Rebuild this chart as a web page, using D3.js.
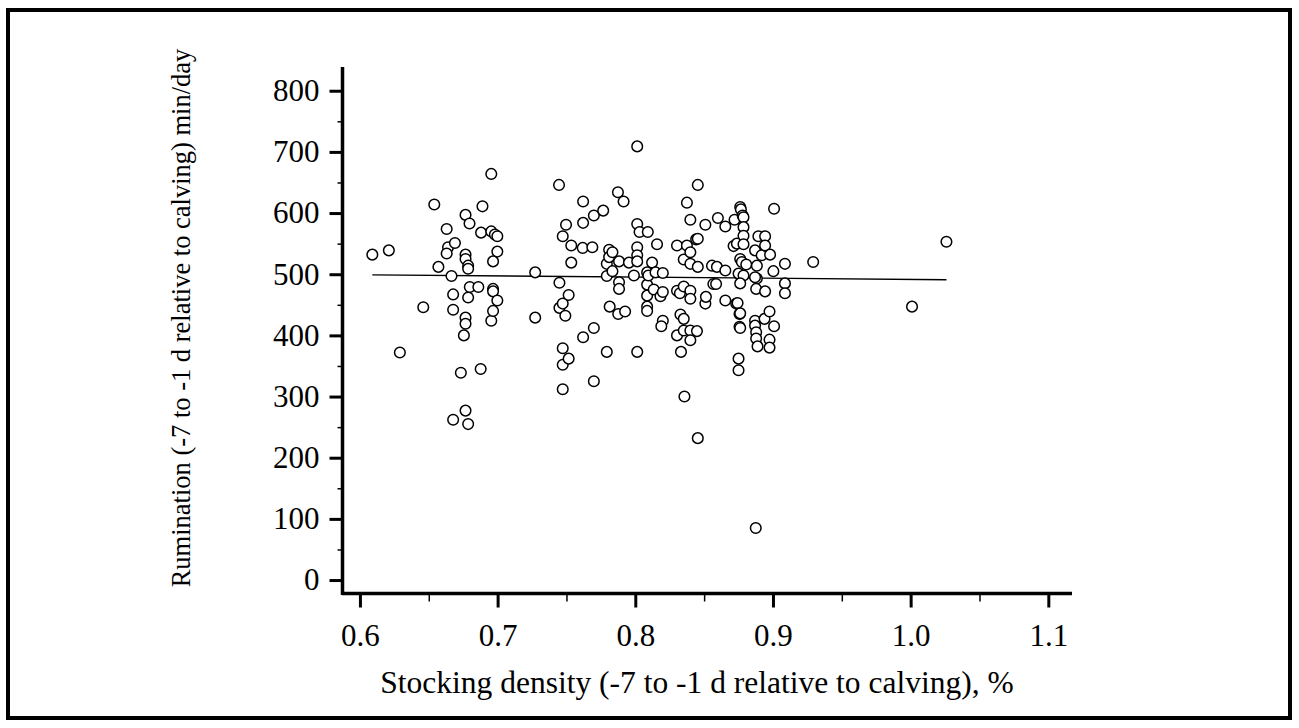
<!DOCTYPE html>
<html>
<head>
<meta charset="utf-8">
<script src="https://cdn.jsdelivr.net/npm/d3@7"></script>
<style>
  html, body { margin: 0; padding: 0; background: #fff; }
  svg { display: block; }
  text { font-family: "Liberation Serif", "Times New Roman", serif; fill: #000; }
</style>
</head>
<body>
<svg id="chart" width="1299" height="728"></svg>
<script>
// ---- Data ----
const stockingDensity = [
  0.609,0.621,0.629,0.646,0.654,0.657,0.663,0.664,0.663,0.6665,0.6677,0.6677,0.6677,0.669,0.6733,0.6755,0.6767,0.6767,0.6767,0.6767,0.6767,0.6767,0.6786,0.6786,0.6786,0.6786,0.6796,0.6798,0.686,0.6877,0.688,0.689,0.6954,0.6954,0.6954,0.6967,0.6967,0.6967,0.6967,0.698,0.6998,0.6998,0.6998,
  0.7273,0.7273,0.7446,0.7449,0.7449,0.7473,0.7473,0.7473,0.7473,0.7473,0.7492,0.7497,0.7516,0.7516,0.7535,0.7535,0.7621,0.7621,0.7618,0.7621,0.7688,0.7699,0.7699,0.7699,0.7767,0.7793,0.7793,0.7793,0.781,0.781,0.7814,0.7834,0.7834,0.7874,0.7882,0.7882,0.7882,0.7876,0.7915,0.7926,0.7954,0.7990,
  0.8014,0.8014,0.8014,0.8014,0.8014,0.8014,0.8031,0.8086,0.8086,0.8086,0.8086,0.8086,0.8091,0.8095,0.8122,0.8134,0.8147,0.8158,0.8183,0.82,0.82,0.82,0.8189,
  0.8303,0.8303,0.8303,0.8324,0.8328,0.8332,0.8352,0.8352,0.8352,0.8352,0.8357,0.8375,0.8375,0.84,0.84,0.84,0.84,0.84,0.84,0.84,0.8442,0.8454,0.8454,0.8454,0.8448,0.8454,0.8509,0.8509,0.8513,0.8557,0.8567,0.8587,0.8593,0.86,0.8654,0.8654,0.8654,0.8721,0.8714,0.8733,0.8738,0.8743,0.875,0.8757,0.8757,0.875,0.875,
  0.8762,0.8767,0.878,0.8786,0.8786,0.8786,0.8786,0.8786,0.8762,0.8774,0.8762,0.8762,0.8762,0.8806,0.8883,0.8883,0.8878,0.887,0.887,0.887,0.887,0.8878,0.8878,0.8888,0.8875,0.8894,0.8918,0.8939,0.8943,0.8943,0.8943,0.8975,0.8975,0.8975,0.8979,0.9003,0.9008,0.9008,0.9087,0.9087,0.9087,0.9292,1.001,1.026
];
const rumination = [
  532,539,372,446,614,512,574,544,534,497,467,442,262,551,339,400,429,419,597,532,525,277,255,514,509,462,583,479,479,345,568,611,664,570,424,440,476,472,521,565,562,537,457,
  503,429,646,486,445,562,452,379,352,312,432,581,466,362,547,519,619,584,543,397,544,596,412,325,604,517,497,373,540,528,447,536,505,634,521,487,476,435,619,439,519,498,
  709,582,544,531,521,373,569,483,503,465,447,440,569,498,519,475,503,549,464,502,471,424,415,
  547,473,400,469,434,373,524,480,427,408,300,617,547,589,536,517,473,460,408,392,557,646,558,512,407,232,581,452,463,514,484,484,512,592,578,506,457,589,546,452,550,453,501,435,414,362,343,
  610,606,596,593,577,563,549,498,525,520,485,436,412,516,514,493,476,539,495,424,416,405,395,382,85,562,531,427,562,547,472,439,393,380,532,505,607,415,517,485,469,520,447,553
];
// Fitted regression line end points
const fitX = [0.609, 1.026];
const fitY = [499, 491];
// Tick labels
const xTicks = [0.6, 0.7, 0.8, 0.9, 1.0, 1.1];
const xMinorTicks = [0.65, 0.75, 0.85, 0.95, 1.05];
const yTicks = [0, 100, 200, 300, 400, 500, 600, 700, 800];
const yMinorTicks = [50, 150, 250, 350, 450, 550, 650, 750];
const xTitle = "Stocking density (-7 to -1 d relative to calving), %";
const yTitle = "Rumination (-7 to -1 d relative to calving) min/day";

// ---- Layout ----
const svg = d3.select("#chart");
const x = d3.scaleLinear().domain([0.5877, 1.1172]).range([343, 1072]);
const y = d3.scaleLinear().domain([-22, 838.8]).range([593.5, 67]);

// outer frame
svg.append("rect")
  .attr("x", 8).attr("y", 10).attr("width", 1282).attr("height", 708)
  .attr("fill", "none").attr("stroke", "#000").attr("stroke-width", 4);

// regression line
svg.append("line")
  .attr("x1", x(fitX[0])).attr("y1", y(fitY[0]))
  .attr("x2", x(fitX[1])).attr("y2", y(fitY[1]))
  .attr("stroke", "#000").attr("stroke-width", 1.3);

// points
const pts = stockingDensity.map((d, i) => [d, rumination[i]]);
svg.append("g").selectAll("circle").data(pts).join("circle")
  .attr("cx", d => x(d[0])).attr("cy", d => y(d[1])).attr("r", 5.3)
  .attr("fill", "#fff").attr("stroke", "#000").attr("stroke-width", 1.5);

// X axis
const xAxisY = 593.5;
const gx = svg.append("g").attr("transform", `translate(0,${xAxisY})`);
gx.call(d3.axisBottom(x).tickValues(xTicks).tickFormat(d3.format(".1f")).tickSize(14).tickPadding(16))
  .call(g => g.select(".domain").remove());
gx.selectAll(".tick line").attr("stroke", "#000").attr("stroke-width", 3);
gx.selectAll(".tick text").attr("font-size", 31).style("font-family", "'Liberation Serif', serif");
const gxm = svg.append("g").attr("transform", `translate(0,${xAxisY})`);
gxm.call(d3.axisBottom(x).tickValues(xMinorTicks).tickSize(8).tickFormat(""))
  .call(g => g.select(".domain").remove());
gxm.selectAll(".tick line").attr("stroke", "#000").attr("stroke-width", 1.5);
svg.append("line").attr("x1", x.range()[0] - 1).attr("x2", x.range()[1])
  .attr("y1", xAxisY).attr("y2", xAxisY).attr("stroke", "#000").attr("stroke-width", 3.5);

// Y axis
const yAxisX = 342.5;
const gy = svg.append("g").attr("transform", `translate(${yAxisX},0)`);
gy.call(d3.axisLeft(y).tickValues(yTicks).tickFormat(d3.format("d")).tickSize(13).tickPadding(10))
  .call(g => g.select(".domain").remove());
gy.selectAll(".tick line").attr("stroke", "#000").attr("stroke-width", 3);
gy.selectAll(".tick text").attr("font-size", 31).style("font-family", "'Liberation Serif', serif");
const gym = svg.append("g").attr("transform", `translate(${yAxisX},0)`);
gym.call(d3.axisLeft(y).tickValues(yMinorTicks).tickSize(5).tickFormat(""))
  .call(g => g.select(".domain").remove());
gym.selectAll(".tick line").attr("stroke", "#000").attr("stroke-width", 1.5);
svg.append("line").attr("x1", yAxisX).attr("x2", yAxisX)
  .attr("y1", y.range()[1]).attr("y2", xAxisY + 1.5).attr("stroke", "#000").attr("stroke-width", 3.5);

// Titles
svg.append("text").attr("x", 697).attr("y", 693).attr("text-anchor", "middle")
  .attr("font-size", 31.5).text(xTitle);
svg.append("text").attr("transform", "translate(190,318) rotate(-90)").attr("text-anchor", "middle")
  .attr("font-size", 26.5).text(yTitle);
</script>
</body>
</html>
